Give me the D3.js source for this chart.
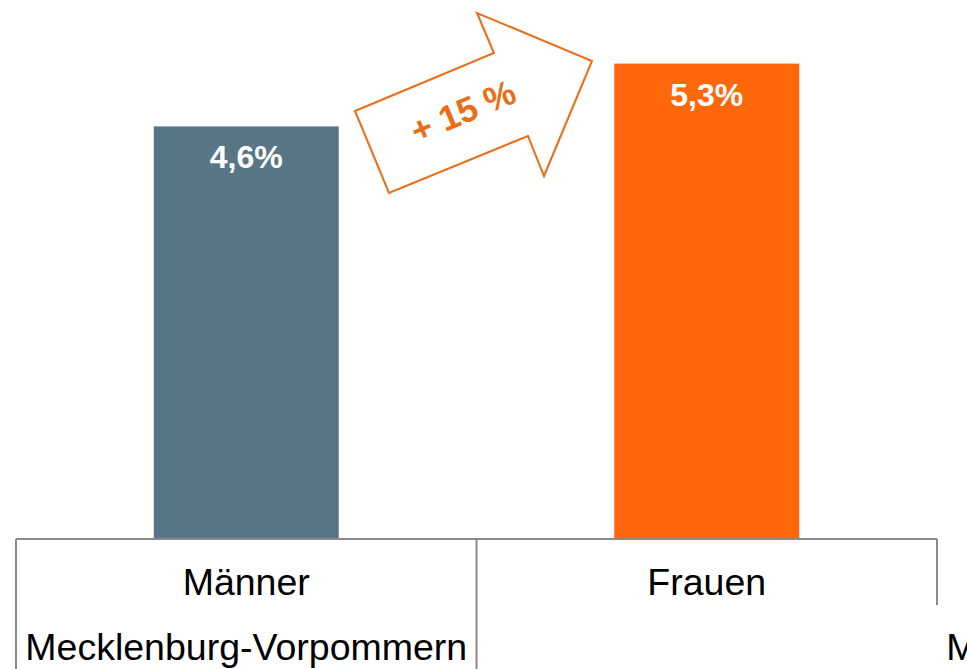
<!DOCTYPE html>
<html>
<head>
<meta charset="utf-8">
<script src="https://cdn.jsdelivr.net/npm/d3@7"></script>
<style>
	body { margin: 0; background: #fff; overflow: hidden; }
	svg { display: block; font-family: "Liberation Sans", Arial, sans-serif; }
</style>
</head>
<body>
<div id="chart"></div>
<script>
//////////////////////////// data /////////////////////////////////////////

const categories = ["Männer", "Frauen"];
const values = [4.6, 5.3];
const valueLabels = ["4,6%", "5,3%"];
const groupLabels = ["Mecklenburg-Vorpommern", "Mecklenburg-Vorpommern"];
const changeLabel = "+ 15 %";
const colors = ["#587685", "#ff670a"];

//////////////////////////// sizes ////////////////////////////////////////

const width = 967;
const height = 669;
const axisY = 539;
const left = 16;
const bandW = 460.5;

const svg = d3.select("#chart").append("svg")
	.attr("width", width)
	.attr("height", height);

//////////////////////////// scales ///////////////////////////////////////

const xScale = d3.scaleBand()
	.domain(categories)
	.range([left, left + bandW * categories.length])
	.paddingInner(0)
	.paddingOuter(0);

const yScale = d3.scaleLinear()
	.domain([0, 6])
	.range([axisY, axisY - 6 * 89.7]);

const barW = 185;

//////////////////////////// bars /////////////////////////////////////////

const bars = svg.selectAll(".bar")
	.data(categories)
	.join("g")
	.attr("class", "bar");

bars.append("rect")
	.attr("x", (d) => xScale(d) + xScale.bandwidth() / 2 - barW / 2)
	.attr("y", (d, i) => yScale(values[i]))
	.attr("width", barW)
	.attr("height", (d, i) => yScale(0) - yScale(values[i]))
	.attr("fill", (d, i) => colors[i]);

bars.append("text")
	.attr("x", (d) => xScale(d) + xScale.bandwidth() / 2)
	.attr("y", (d, i) => yScale(values[i]) + 42)
	.attr("text-anchor", "middle")
	.attr("fill", "#fff")
	.attr("font-weight", "bold")
	.attr("font-size", 32)
	.text((d, i) => valueLabels[i]);

//////////////////////////// axis /////////////////////////////////////////

const axisColor = "#8a8a8a";
const [x0, x1] = xScale.range();

svg.append("line")
	.attr("x1", x0).attr("x2", x1)
	.attr("y1", axisY).attr("y2", axisY)
	.attr("stroke", axisColor).attr("stroke-width", 2);

// category separators
const ticks = [x0, x0 + xScale.bandwidth(), x1];
svg.selectAll(".sep")
	.data(ticks)
	.join("line")
	.attr("class", "sep")
	.attr("x1", (d) => d).attr("x2", (d) => d)
	.attr("y1", axisY)
	.attr("y2", (d, i) => (i === ticks.length - 1 ? 605 : height))
	.attr("stroke", axisColor).attr("stroke-width", 2);

svg.selectAll(".cat")
	.data(categories)
	.join("text")
	.attr("class", "cat")
	.attr("x", (d) => xScale(d) + xScale.bandwidth() / 2)
	.attr("y", 595)
	.attr("text-anchor", "middle")
	.attr("font-size", 37.5)
	.attr("fill", "#000")
	.text((d) => d);

// group labels, second one runs off the edge
svg.selectAll(".grp")
	.data(groupLabels)
	.join("text")
	.attr("class", "grp")
	.attr("x", (d, i) => xScale(categories[0]) + xScale.bandwidth() / 2 + i * (x1 - x0))
	.attr("y", 660)
	.attr("text-anchor", "middle")
	.attr("font-size", 37.5)
	.attr("fill", "#000")
	.text((d) => d);

//////////////////////////// arrow ////////////////////////////////////////

const arrowPts = [
	[355, 111], [494, 53], [477, 13], [592, 61],
	[544, 176], [528, 136], [389, 193]
];

svg.append("polygon")
	.attr("points", arrowPts.map((p) => p.join(",")).join(" "))
	.attr("fill", "#fff")
	.attr("stroke", "#ec6d12")
	.attr("stroke-width", 2)
	.attr("stroke-linejoin", "miter");

svg.append("text")
	.attr("transform", "translate(463,111) rotate(-22.6)")
	.attr("text-anchor", "middle")
	.attr("dominant-baseline", "central")
	.attr("font-weight", "bold")
	.attr("font-size", 35)
	.attr("fill", "#ec6d12")
	.text(changeLabel);
</script>
</body>
</html>
